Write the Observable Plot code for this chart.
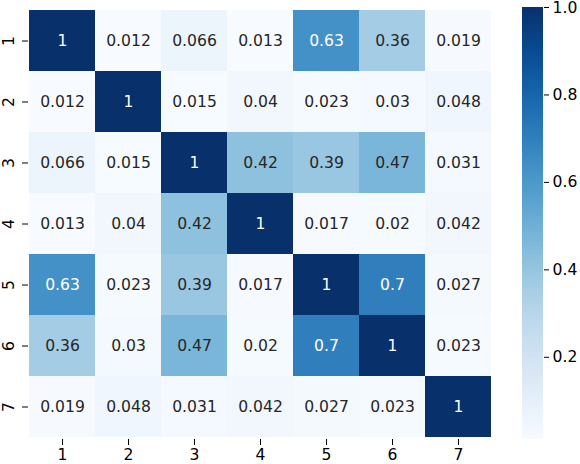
<!DOCTYPE html>
<html>
<head>
<meta charset="utf-8">
<script src="https://cdn.jsdelivr.net/npm/d3@7"></script>
<script src="https://cdn.jsdelivr.net/npm/@observablehq/plot@0.6"></script>
<style>
  body { margin: 0; background: #fff; }
  #chart { position: relative; width: 580px; height: 464px; font-family: "DejaVu Sans", sans-serif; }
  #chart svg { position: absolute; top: 0; overflow: visible; }
</style>
</head>
<body>
<div id="chart"></div>
<script>
// variable labels (rows and columns are the same)
const labels = [1, 2, 3, 4, 5, 6, 7];

// correlation matrix, row by row
const row1 = [1, 0.012, 0.066, 0.013, 0.63, 0.36, 0.019];
const row2 = [0.012, 1, 0.015, 0.04, 0.023, 0.03, 0.048];
const row3 = [0.066, 0.015, 1, 0.42, 0.39, 0.47, 0.031];
const row4 = [0.013, 0.04, 0.42, 1, 0.017, 0.02, 0.042];
const row5 = [0.63, 0.023, 0.39, 0.017, 1, 0.7, 0.027];
const row6 = [0.36, 0.03, 0.47, 0.02, 0.7, 1, 0.023];
const row7 = [0.019, 0.048, 0.031, 0.042, 0.027, 0.023, 1];
const rows = [row1, row2, row3, row4, row5, row6, row7];

// colorbar ticks
const barTicks = [0.2, 0.4, 0.6, 0.8, 1.0];

const cells = rows.flatMap((r, i) => r.map((v, j) => ({row: labels[i], col: labels[j], value: v})));
const vmin = d3.min(cells, d => d.value);
const vmax = d3.max(cells, d => d.value);
const color = {type: "linear", scheme: "blues", domain: [vmin, vmax]};
const fmt = d3.format(".2~g");
const font = 15.6;

const heat = Plot.plot({
  width: 505, height: 464,
  marginLeft: 28, marginRight: 13, marginTop: 7, marginBottom: 25,
  style: {fontFamily: "DejaVu Sans", fontSize: font + "px", color: "#000", background: "transparent"},
  x: {domain: labels, padding: 0, label: null},
  y: {domain: labels, padding: 0, label: null},
  color,
  marks: [
    Plot.cell(cells, {x: "col", y: "row", fill: "value"}),
    Plot.text(cells, {
      x: "col", y: "row", text: d => fmt(d.value),
      fill: d => d.value > 0.5 ? "#ffffff" : "#262626",
      fontSize: font
    }),
    Plot.axisX({anchor: "bottom", tickSize: 6, tickPadding: 3, label: null}),
    Plot.axisY({anchor: "left", tickSize: 6, tickFormat: () => "", label: null}),
    Plot.text(labels, {
      y: d => d, text: d => String(d), frameAnchor: "left",
      rotate: -90, textAnchor: "middle", lineAnchor: "bottom",
      dx: -14.5, fontSize: font, fill: "#000"
    })
  ]
});

// colorbar ramp steps
const ramp = d3.range(vmin, vmax, 0.002);

const bar = Plot.plot({
  width: 75, height: 464,
  marginLeft: 17, marginRight: 37, marginTop: 7, marginBottom: 25,
  style: {fontFamily: "DejaVu Sans", fontSize: font + "px", color: "#000", background: "transparent", overflow: "visible"},
  x: {domain: [0, 1], axis: null},
  y: {domain: [vmin, vmax], label: null},
  color,
  marks: [
    Plot.rectY(ramp, {
      x1: 0, x2: 1, y1: d => d, y2: d => Math.min(vmax, d + 0.003),
      fill: d => d + 0.001, shapeRendering: "crispEdges"
    }),
    Plot.axisY(barTicks, {anchor: "right", tickSize: 5, tickPadding: 4, tickFormat: d3.format(".1f"), label: null})
  ]
});

heat.style.left = "0px";
bar.style.left = "505px";
document.getElementById("chart").append(heat, bar);
</script>
</body>
</html>
